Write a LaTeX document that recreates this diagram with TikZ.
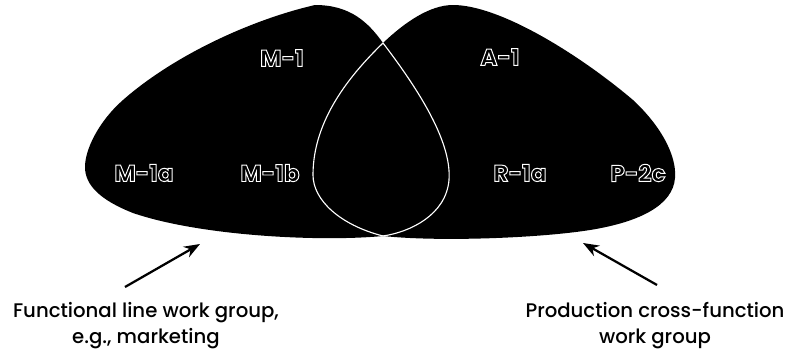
\documentclass[tikz,border=0pt]{standalone}
\usepackage{fontspec}
\setmainfont{Poppins}
\newfontfamily\notizfont{Poppins Medium}
\usepackage{tikz}
\usetikzlibrary{arrows.meta}
\usetikzlibrary{calc}

% hollow label: black glyph, white stroke
\newcommand\hohl[1]{\special{pdf:literal direct q 2 Tr 0.7 w 1 1 1 RG 0 0 0 rg}#1\special{pdf:literal direct Q}}

% outlines of the two work groups
\def\linienpfad{(315,5) .. controls (350,5) and (368,22) .. (383,43)
     .. controls (415,85) and (452,140) .. (449,180)
     .. controls (446,215) and (410,232) .. (383,236)
     .. controls (320,242) and (200,236) .. (133,213)
     .. controls (100,200) and (85,185) .. (85,167)
     .. controls (85,150) and (98,122) .. (123,100)
     .. controls (173,56) and (250,20) .. (315,5) -- cycle}
\def\produktionspfad{(453,5) .. controls (500,5) and (580,55) .. (633,100)
     .. controls (660,125) and (677,155) .. (675,178)
     .. controls (673,205) and (640,222) .. (590,230)
     .. controls (540,238) and (440,242) .. (383,236)
     .. controls (340,225) and (313,200) .. (313,175)
     .. controls (313,120) and (350,75) .. (383,43)
     .. controls (405,22) and (430,5) .. (453,5) -- cycle}

\begin{document}
\begin{tikzpicture}
     [
     x=0.25mm, y=-0.25mm,
     gruppe/.style = {font=\bfseries\fontsize{16.5}{18}\selectfont, inner sep=0pt},
     notiz/.style = {font=\notizfont\fontsize{14}{18.4}\selectfont, align=center, inner sep=0pt, anchor=north},
     >={Stealth[length=4mm,width=3mm]}
     ]

     \useasboundingbox (0,0) rectangle (790,355);

     \fill[black] \linienpfad;
     \fill[black] \produktionspfad;

     % white lens where the groups overlap
     \begin{scope}
       \clip \produktionspfad;
       \draw[white, line width=0.8pt] \linienpfad;
     \end{scope}
     \begin{scope}
       \clip \linienpfad;
       \draw[white, line width=0.8pt] \produktionspfad;
     \end{scope}

    \draw (282,58) node[gruppe] (m1) {\hohl{M-1}}
               (500,57) node[gruppe] (a1) {\hohl{A-1}}
               (144,173) node[gruppe] (m1a) {\hohl{M-1a}}
               (270,173) node[gruppe] (m1b) {\hohl{M-1b}}
               (520,173) node[gruppe] (r1a) {\hohl{R-1a}}
               (638,173) node[gruppe] (p2c) {\hohl{P-2c}}
               (146,302) node[notiz] (linie) {Functional line work group,\\e.g., marketing}
               (655,302) node[notiz] (produktion) {Production cross-function\\work group}
     ;

     \coordinate (linienpfeil) at (200,244);
     \coordinate (produktionspfeil) at (583,243);

     \draw[->, line width=1.6pt] ($(linie.north)+(-21,-15)$) -- (linienpfeil);
     \draw[->, line width=1.6pt] ($(produktion.north)+(2,-17)$) -- (produktionspfeil);
  \end{tikzpicture}
\end{document}
